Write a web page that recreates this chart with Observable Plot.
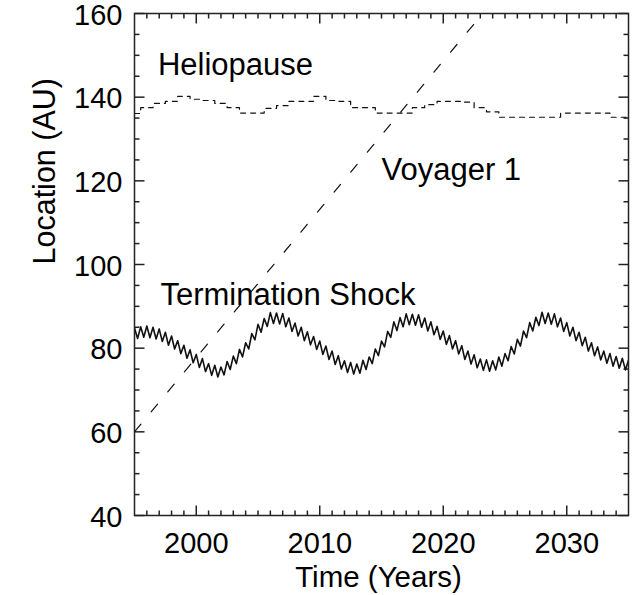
<!DOCTYPE html>
<html><head><meta charset="utf-8">
<script src="https://cdn.jsdelivr.net/npm/d3@7"></script>
<script src="https://cdn.jsdelivr.net/npm/@observablehq/plot@0.6"></script>
<style>body{margin:0;background:#fff}</style>
</head><body><div id="chart"></div>
<script>
// ---- Data ----
const voyagerYears = [1995, 2023.2];
const voyagerAU = [60, 160];

const helioYears = [1995,1996,1997,1998,1999,2000,2001,2002,2003,2004,2005,2006,2007,2008,2009,2010,2011,2012,2013,2014,2015,2016,2017,2018,2019,2020,2021,2022,2023,2024,2025,2026,2027,2028,2029,2030,2031,2032,2033,2034,2035];
const helioAU = [136.1,137.5,138.5,139.0,140.2,139.5,139.2,138.5,137.5,136.2,136.2,137.3,138.0,139.0,139.0,140.2,139.2,139.0,137.5,137.5,136.2,136.2,136.2,137.5,138.2,139.0,139.0,138.8,137.5,136.5,135.2,135.2,135.2,135.2,135.2,136.2,136.2,136.2,136.2,135.2,135.2];

// termination shock, sampled every quarter year from 1995 to 2035
const tsStart = 1995, tsStep = 0.25;
const tsAU = [
 84.8,82.3,85.1,82.6, 85.3,82.5,85.0,82.2, 84.6,81.6,83.8,80.7, 82.9,79.8,81.8,78.7,
 80.7,77.6,79.6,76.5, 78.5,75.4,77.5,74.4, 76.3,73.5,75.9,73.1, 75.5,73.6,76.8,74.9,
 78.1,76.3,79.7,77.9, 81.3,79.8,83.5,82.0, 85.7,83.8,87.1,85.2, 88.5,85.9,88.4,85.8,
 88.3,85.1,87.2,84.0, 86.0,82.9,85.0,81.8, 83.9,80.8,82.8,79.7, 81.7,78.5,80.5,77.3,
 79.3,76.1,78.2,75.0, 77.0,74.2,76.6,73.8, 76.2,74.0,77.1,74.9, 77.9,76.3,79.8,78.2,
 81.7,80.3,84.0,82.6, 86.3,84.2,87.3,85.1, 88.2,85.6,88.1,85.5, 88.0,85.0,87.2,84.1,
 86.3,83.2,85.2,82.1, 84.1,80.9,83.0,79.8, 81.8,78.6,80.6,77.3, 79.3,76.2,78.4,75.3,
 77.4,74.7,77.2,74.5, 77.0,74.8,77.9,75.7, 78.7,77.0,80.4,78.6, 82.1,80.5,84.1,82.5,
 86.1,84.1,87.4,85.4, 88.6,85.9,88.4,85.7, 88.2,85.1,87.2,84.0, 86.1,82.9,85.0,81.8,
 83.8,80.6,82.6,79.3, 81.3,78.2,80.3,77.2, 79.3,76.4,78.7,75.7, 78.0,75.2,77.6,74.8,
 77.1
];

const annText = ["Heliopause", "Voyager 1", "Termination Shock"];
const annX = [1996.9, 2015.0, 1997.1];
const annY = [145.2, 120.1, 90.3];

const xTicks = [2000, 2010, 2020, 2030];
const yTicks = [40, 60, 80, 100, 120, 140, 160];
const xMinor = d3.range(1996, 2035).filter(d => d % 10 !== 0);
const yMinor = d3.range(45, 160, 5).filter(d => d % 20 !== 0);
const xDomain = [1995, 2035], yDomain = [40, 160];

// ---- Layout ----
const W = 633, H = 595, mL = 134, mR = 5, mT = 13, mB = 80;
const plotW = W - mL - mR, plotH = H - mT - mB;
const font = "'Liberation Sans', Arial, Helvetica, sans-serif";
const ink = "#222";
// convert pixel tick lengths into data units of each scale
const yPerPx = (yDomain[1] - yDomain[0]) / plotH;
const xPerPx = (xDomain[1] - xDomain[0]) / plotW;
const majLen = 10, minLen = 5;

const ts = tsAU.map((v, i) => ({x: tsStart + i * tsStep, y: v}));
const helio = helioYears.map((x, i) => ({x, y: helioAU[i]}));
const voy = voyagerYears.map((x, i) => ({x, y: voyagerAU[i]}));

const tickStyle = {stroke: ink, strokeWidth: 1.5};
const xTickMarks = (vals, len, atTop) => Plot.link(vals, {
  x1: d => d, x2: d => d,
  y1: atTop ? yDomain[1] - len * yPerPx : yDomain[0],
  y2: atTop ? yDomain[1] : yDomain[0] + len * yPerPx, ...tickStyle});
const yTickMarks = (vals, len, atRight) => Plot.link(vals, {
  y1: d => d, y2: d => d,
  x1: atRight ? xDomain[1] - len * xPerPx : xDomain[0],
  x2: atRight ? xDomain[1] : xDomain[0] + len * xPerPx, ...tickStyle});

const chart = Plot.plot({
  width: W, height: H,
  marginLeft: mL, marginRight: mR, marginTop: mT, marginBottom: mB,
  style: {fontFamily: font, background: "#fff", color: "#000", overflow: "visible"},
  x: {domain: xDomain},
  y: {domain: yDomain},
  marks: [
    Plot.axisX(xTicks, {tickSize: 0, tickPadding: 17, fontSize: 29, label: null, tickFormat: d => String(d), fill: "#000"}),
    Plot.axisY(yTicks, {tickSize: 0, tickPadding: 12, dy: 2, fontSize: 29, label: null, tickFormat: d => String(d), fill: "#000"}),
    // inward ticks on all four sides
    xTickMarks(xTicks, majLen, false), xTickMarks(xTicks, majLen, true),
    xTickMarks(xMinor, minLen, false), xTickMarks(xMinor, minLen, true),
    yTickMarks(yTicks, majLen, false), yTickMarks(yTicks, majLen, true),
    yTickMarks(yMinor, minLen, false), yTickMarks(yMinor, minLen, true),
    // series
    Plot.line(helio, {x: "x", y: "y", curve: "step", stroke: "#111", strokeWidth: 1.2, strokeDasharray: "5,5", clip: true}),
    Plot.line(voy, {x: "x", y: "y", stroke: "#111", strokeWidth: 1.2, strokeDasharray: "10,16", clip: true}),
    Plot.line(ts, {x: "x", y: "y", stroke: "#111", strokeWidth: 1.6, clip: true}),
    Plot.frame({stroke: ink, strokeWidth: 1.5}),
    // annotations
    Plot.text(annText, {x: (d, i) => annX[i], y: (d, i) => annY[i], text: d => d, textAnchor: "start", lineAnchor: "bottom", fontSize: 31, fill: "#000"}),
    // axis titles
    Plot.text(["Time (Years)"], {frameAnchor: "bottom", lineAnchor: "bottom", dy: 71, dx: -3, fontSize: 29.5, fill: "#000"}),
    Plot.text(["Location (AU)"], {frameAnchor: "left", rotate: -90, dx: -89, fontSize: 30.5, fill: "#000"})
  ]
});
document.getElementById("chart").appendChild(chart);
</script>
</body></html>
